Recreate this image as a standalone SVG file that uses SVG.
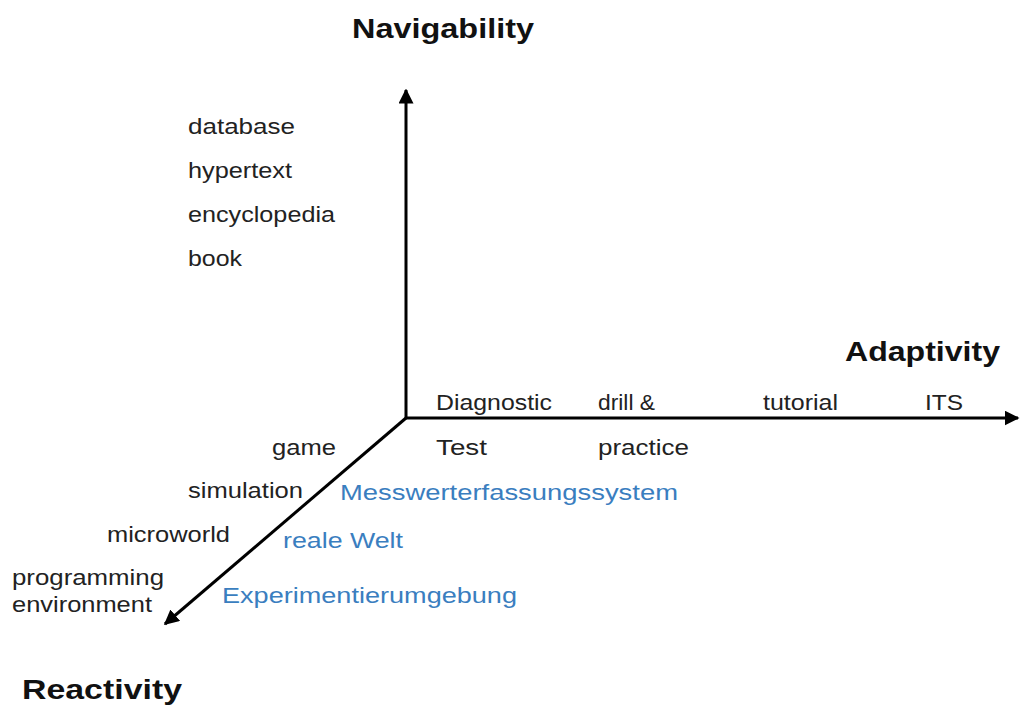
<svg xmlns="http://www.w3.org/2000/svg" width="1020" height="706" viewBox="0 0 1020 706">
<defs>
<marker id="ah" viewBox="0 0 10 10" refX="9" refY="5" markerWidth="5" markerHeight="5" orient="auto" markerUnits="strokeWidth">
<path d="M0,0 L10,5 L0,10 z" fill="#000"/>
</marker>
<style>
.t{font-family:"Liberation Sans",Arial,sans-serif;font-size:22px;fill:#222}
.b{font-family:"Liberation Sans",Arial,sans-serif;font-size:28px;font-weight:bold;fill:#111}
.bl{font-family:"Liberation Sans",Arial,sans-serif;font-size:22px;fill:#3a7ebf}
.ax{stroke:#000;stroke-width:3;fill:none}
</style>
</defs>
<rect width="1020" height="706" fill="#fff"/>
<g id="connectors">
<line class="ax" x1="406" y1="418" x2="406" y2="90" marker-end="url(#ah)"/>
<line class="ax" x1="406" y1="418" x2="1018" y2="418" marker-end="url(#ah)"/>
<line class="ax" x1="406" y1="418" x2="165" y2="624" marker-end="url(#ah)"/>
</g>
<g id="axis-navigability"><text class="b" x="352" y="38" textLength="182" lengthAdjust="spacingAndGlyphs">Navigability</text></g>
<g id="axis-adaptivity"><text class="b" x="845" y="361" textLength="155" lengthAdjust="spacingAndGlyphs">Adaptivity</text></g>
<g id="axis-reactivity"><text class="b" x="22" y="699" textLength="160" lengthAdjust="spacingAndGlyphs">Reactivity</text></g>
<g id="nav-items">
<text class="t" x="188" y="134" textLength="107" lengthAdjust="spacingAndGlyphs">database</text>
<text class="t" x="188" y="178" textLength="104" lengthAdjust="spacingAndGlyphs">hypertext</text>
<text class="t" x="188" y="222" textLength="147" lengthAdjust="spacingAndGlyphs">encyclopedia</text>
<text class="t" x="188" y="266" textLength="54" lengthAdjust="spacingAndGlyphs">book</text>
</g>
<g id="adapt-items">
<text class="t" x="436" y="410" textLength="116" lengthAdjust="spacingAndGlyphs">Diagnostic</text>
<text class="t" x="436" y="455" textLength="51" lengthAdjust="spacingAndGlyphs">Test</text>
<text class="t" x="598" y="410" textLength="57" lengthAdjust="spacingAndGlyphs">drill &amp;</text>
<text class="t" x="598" y="455" textLength="91" lengthAdjust="spacingAndGlyphs">practice</text>
<text class="t" x="763" y="410" textLength="75" lengthAdjust="spacingAndGlyphs">tutorial</text>
<text class="t" x="925" y="410" textLength="38" lengthAdjust="spacingAndGlyphs">ITS</text>
</g>
<g id="react-items">
<text class="t" x="272" y="455" textLength="64" lengthAdjust="spacingAndGlyphs">game</text>
<text class="t" x="188" y="498" textLength="115" lengthAdjust="spacingAndGlyphs">simulation</text>
<text class="t" x="107" y="542" textLength="123" lengthAdjust="spacingAndGlyphs">microworld</text>
<text class="t" x="12" y="585" textLength="152" lengthAdjust="spacingAndGlyphs">programming</text>
<text class="t" x="12" y="612" textLength="140" lengthAdjust="spacingAndGlyphs">environment</text>
</g>
<g id="blue-items">
<text class="bl" x="340" y="500" textLength="338" lengthAdjust="spacingAndGlyphs">Messwerterfassungssystem</text>
<text class="bl" x="283" y="548" textLength="120" lengthAdjust="spacingAndGlyphs">reale Welt</text>
<text class="bl" x="222" y="603" textLength="295" lengthAdjust="spacingAndGlyphs">Experimentierumgebung</text>
</g>
</svg>
